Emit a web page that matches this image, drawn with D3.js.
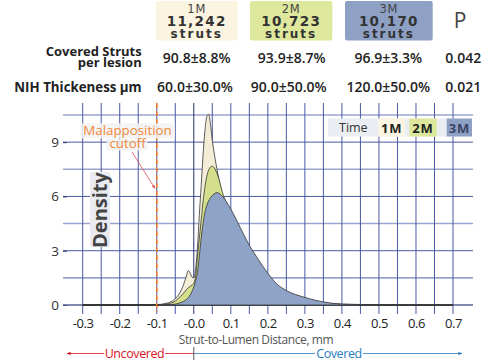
<!DOCTYPE html>
<html>
<head>
<meta charset="utf-8">
<script src="https://cdn.jsdelivr.net/npm/d3@7"></script>
<style>
  body { margin: 0; background: #fff; }
  svg { display: block; font-family: "Open Sans", sans-serif; }
</style>
</head>
<body>
<div class="chart"></div>
<script>
// strut-to-lumen distance density, 3 follow-up times

var groups = ["1M", "2M", "3M"];
var strutCounts = ["11,242", "10,723", "10,170"];
var coveredStruts = ["90.8±8.8%", "93.9±8.7%", "96.9±3.3%"];
var nihThickness = ["60.0±30.0%", "90.0±50.0%", "120.0±50.0%"];
var pValues = ["0.042", "0.021"];
var xTicks = [-0.3, -0.2, -0.1, 0, 0.1, 0.2, 0.3, 0.4, 0.5, 0.6, 0.7];
var yTicks = [0, 3, 6, 9];

var dist = [-0.3, -0.2, -0.15, -0.1, -0.075, -0.05, -0.04, -0.03, -0.02, -0.015, -0.01, -0.005,
  0, 0.005, 0.01, 0.015, 0.02, 0.025, 0.03, 0.035, 0.04, 0.045, 0.05, 0.055, 0.06, 0.065,
  0.07, 0.075, 0.08, 0.09, 0.1, 0.125, 0.15, 0.175, 0.2, 0.225, 0.25, 0.3, 0.35, 0.4, 0.45,
  0.5, 0.6, 0.7];
var dens1M = [0, 0.01, 0.01, 0.02, 0.09, 0.35, 0.6, 1.0, 1.6, 1.9, 1.78, 1.55,
  1.5, 2.0, 3.2, 5.0, 6.6, 8.3, 9.6, 10.4, 10.55, 10.0, 9.1, 8.4, 7.8, 7.25,
  6.7, 6.15, 5.85, 5.4, 5.0, 4.0, 2.9, 2.0, 1.4, 0.9, 0.6, 0.25, 0.08, 0.03, 0.02,
  0.01, 0.01, 0.01];
var dens2M = [0, 0.005, 0.005, 0.01, 0.05, 0.22, 0.4, 0.6, 0.85, 0.95, 1.02, 1.1,
  1.2, 1.6, 2.7, 3.7, 4.7, 5.7, 6.5, 7.1, 7.45, 7.62, 7.67, 7.6, 7.4, 7.15,
  6.8, 6.4, 6.05, 5.55, 5.1, 4.1, 3.1, 2.25, 1.55, 1.0, 0.68, 0.3, 0.12, 0.04, 0.02,
  0.01, 0.01, 0.01];
var dens3M = [0, 0, 0, 0.005, 0.01, 0.05, 0.1, 0.18, 0.3, 0.4, 0.55, 0.75,
  1.0, 1.35, 1.8, 2.7, 3.7, 4.5, 5.1, 5.5, 5.75, 5.92, 6.05, 6.14, 6.2, 6.2,
  6.15, 6.05, 5.95, 5.65, 5.3, 4.3, 3.3, 2.5, 1.75, 1.15, 0.8, 0.42, 0.17, 0.05, 0.03,
  0.02, 0.01, 0.01];

var fills = ["#f3edd8", "#d4df8b", "#8fa3c7"];
var boxFills = ["#fbf4e0", "#dde89c", "#8ea1c5"];

var width = 489, height = 360;
var svg = d3.select(".chart").append("svg")
    .attr("width", width)
    .attr("height", height);

var x = d3.scaleLinear().domain([-0.3, 0.7]).range([82.7, 453]);
var y = d3.scaleLinear().domain([0, 10.5]).range([305, 115]);

/* header */
var boxX = [[155.7, 82], [250, 82.3], [345, 87.7]];
groups.forEach(function(g, i) {
  var cx = boxX[i][0] + boxX[i][1] / 2;
  svg.append("rect")
      .attr("x", boxX[i][0]).attr("y", 1)
      .attr("width", boxX[i][1]).attr("height", 39.5)
      .attr("rx", 2)
      .attr("fill", boxFills[i]);
  var t = svg.append("g").attr("font-family", "DejaVu Sans").attr("text-anchor", "middle");
  t.append("text").attr("x", cx).attr("y", 12.8)
      .attr("font-size", 11.5).attr("fill", "#444").attr("letter-spacing", 0.8)
      .text(g);
  t.append("text").attr("x", cx).attr("y", 25.8)
      .attr("font-size", 13.5).attr("font-weight", "bold").attr("fill", "#333")
      .attr("letter-spacing", 1.3)
      .text(strutCounts[i]);
  t.append("text").attr("x", cx).attr("y", 37.6)
      .attr("font-size", 12).attr("font-weight", "bold").attr("fill", "#333")
      .attr("letter-spacing", 2)
      .text("struts");
});
svg.append("text").attr("x", 460).attr("y", 28.3)
    .attr("text-anchor", "middle").attr("font-size", 21).attr("fill", "#444")
    .text("P");

var rows = svg.append("g").attr("fill", "#222");
rows.append("text").attr("x", 141.7).attr("y", 55.5).attr("text-anchor", "end")
    .attr("font-size", 13).attr("font-weight", "bold").text("Covered Struts");
rows.append("text").attr("x", 141.7).attr("y", 67).attr("text-anchor", "end")
    .attr("font-size", 13).attr("font-weight", "bold").text("per lesion");
rows.append("text").attr("x", 141.7).attr("y", 92).attr("text-anchor", "end")
    .attr("font-size", 13.3).attr("font-weight", "bold").text("NIH Thickeness µm");

var colX = [196.7, 291.7, 388.3];
var colX2 = [195, 288.7, 388.3];
colX.forEach(function(cx, i) {
  rows.append("text").attr("x", cx).attr("y", 62.5).attr("text-anchor", "middle")
      .attr("font-size", 14).attr("font-weight", 600).text(coveredStruts[i]);
  rows.append("text").attr("x", colX2[i]).attr("y", 92)
      .attr("text-anchor", "middle")
      .attr("font-size", 14).attr("font-weight", 600).text(nihThickness[i]);
});
rows.append("text").attr("x", 463.3).attr("y", 62.5).attr("text-anchor", "middle")
    .attr("font-size", 14).attr("font-weight", 600).text(pValues[0]);
rows.append("text").attr("x", 463.3).attr("y", 92).attr("text-anchor", "middle")
    .attr("font-size", 14).attr("font-weight", 600).text(pValues[1]);

/* grid */
var grid = svg.append("g");
var hLines = d3.range(0, 10.51, 1.5);
grid.selectAll(".h").data(hLines).enter().append("line")
    .attr("x1", 63).attr("x2", 473)
    .attr("y1", function(d) { return y(d); })
    .attr("y2", function(d) { return y(d); })
    .attr("stroke", function(d) { return d % 3 == 0 ? "#4a58a4" : "#9aa3cf"; })
    .attr("stroke-width", function(d) { return d % 3 == 0 ? 1 : 1.6; });
var vLines = d3.range(-0.3, 0.7001, 0.05);
grid.selectAll(".v").data(vLines).enter().append("line")
    .attr("x1", function(d) { return x(d); })
    .attr("x2", function(d) { return x(d); })
    .attr("y1", 103).attr("y2", 314)
    .attr("stroke", function(d) { return Math.abs(d) < 1e-6 ? "#27316e" : "#4a58a4"; })
    .attr("stroke-width", 1);

// Y axis ticks
svg.append("g")
    .attr("transform", "translate(63,0)")
    .call(d3.axisRight(y).tickValues(yTicks).tickSize(4).tickFormat(""))
    .call(function(g) { g.select(".domain").remove(); })
    .selectAll("line").attr("stroke", "#2a3575");
svg.selectAll(".ylab").data(yTicks).enter().append("text")
    .attr("x", 59).attr("y", function(d) { return y(d) + 4.8; })
    .attr("text-anchor", "end").attr("font-size", 13.5).attr("fill", "#333")
    .text(function(d) { return d; });

// X axis
var xAxis = svg.append("g")
    .attr("transform", "translate(0,305)")
    .call(d3.axisBottom(x).tickValues(xTicks).tickSize(0).tickPadding(14)
      .tickFormat(function(d) { return (d <= 0 ? "-" : "") + Math.abs(d).toFixed(1); }));
xAxis.select(".domain").remove();
xAxis.selectAll("text")
    .attr("font-family", "Open Sans").attr("font-size", 13).attr("fill", "#222")
    .attr("letter-spacing", -0.4);
svg.append("line").attr("x1", 63).attr("x2", 473).attr("y1", 305).attr("y2", 305)
    .attr("stroke", "#5c6690").attr("stroke-width", 1);

/* densities */
var area = d3.area()
    .x(function(d) { return x(d[0]); })
    .y0(y(0))
    .y1(function(d) { return y(d[1]); })
    .curve(d3.curveMonotoneX);
[dens1M, dens2M, dens3M].forEach(function(vals, i) {
  var pts = dist.map(function(dx, j) { return [dx, vals[j]]; });
  svg.append("path").datum(pts)
      .attr("d", area)
      .attr("fill", fills[i])
      .attr("stroke", "#333")
      .attr("stroke-width", 0.8);
});

/* malapposition cutoff */
svg.append("line")
    .attr("x1", x(-0.1)).attr("x2", x(-0.1))
    .attr("y1", 103).attr("y2", 312)
    .attr("stroke", "#f07a22").attr("stroke-width", 1.5)
    .attr("stroke-dasharray", "5,3");
svg.append("rect").attr("x", 80.7).attr("y", 123.3).attr("width", 94.3).attr("height", 15)
    .attr("fill", "#f2f2f2").attr("opacity", 0.85);
svg.append("rect").attr("x", 106.7).attr("y", 138.5).attr("width", 40.6).attr("height", 12)
    .attr("fill", "#f2f2f2").attr("opacity", 0.85);
svg.append("text").attr("x", 127.5).attr("y", 134.5).attr("text-anchor", "middle")
    .attr("font-size", 13.3).attr("fill", "#f08838").text("Malapposition");
svg.append("text").attr("x", 127.5).attr("y", 147.5).attr("text-anchor", "middle")
    .attr("font-size", 13.3).attr("fill", "#f08838").text("cutoff");

svg.append("defs").append("marker")
    .attr("id", "ah").attr("viewBox", "0 0 10 10")
    .attr("refX", 9).attr("refY", 5)
    .attr("markerWidth", 5).attr("markerHeight", 5)
    .attr("orient", "auto")
  .append("path").attr("d", "M0,1L10,5L0,9Z").attr("fill", "#e0505a");
svg.append("line").attr("x1", 132).attr("y1", 152).attr("x2", 155).attr("y2", 188.5)
    .attr("stroke", "#e0505a").attr("stroke-width", 0.8)
    .attr("marker-end", "url(#ah)");

/* Density label */
svg.append("rect").attr("x", 90).attr("y", 172).attr("width", 20).attr("height", 75)
    .attr("fill", "#e9ebf0");
svg.append("text")
    .attr("transform", "translate(106.5,210) rotate(-90)")
    .attr("text-anchor", "middle").attr("font-size", 20).attr("font-weight", "bold")
    .attr("fill", "#444").text("Density");

/* legend */
var leg = svg.append("g");
leg.append("rect").attr("x", 328).attr("y", 118.5).attr("width", 144).attr("height", 18)
    .attr("fill", "#eaedf2");
leg.append("text").attr("x", 339).attr("y", 132).attr("font-size", 12.5).attr("fill", "#333")
    .text("Time");
var legX = [[378.3, 26.7], [409.3, 27.4], [446.7, 25.3]];
groups.forEach(function(g, i) {
  leg.append("rect").attr("x", legX[i][0]).attr("y", 118.5)
      .attr("width", legX[i][1]).attr("height", 18).attr("fill", boxFills[i]);
  leg.append("text").attr("x", legX[i][0] + legX[i][1] / 2).attr("y", 132.5)
      .attr("text-anchor", "middle").attr("font-size", 13).attr("font-weight", "bold")
      .attr("letter-spacing", 0.8)
      .attr("fill", i == 2 ? "#3a4563" : "#222").text(g);
});

/* x title and coverage arrows */
svg.append("text").attr("x", 256).attr("y", 343.5).attr("text-anchor", "middle")
    .attr("font-size", 12).attr("fill", "#555").attr("letter-spacing", -0.4)
    .text("Strut-to-Lumen Distance, mm");

var defs = svg.select("defs");
defs.append("marker").attr("id", "ar").attr("viewBox", "0 0 10 10")
    .attr("refX", 9).attr("refY", 5).attr("markerWidth", 5).attr("markerHeight", 5)
    .attr("orient", "auto-start-reverse")
  .append("path").attr("d", "M0,1L10,5L0,9Z").attr("fill", "#d8141e");
defs.append("marker").attr("id", "ab").attr("viewBox", "0 0 10 10")
    .attr("refX", 9).attr("refY", 5).attr("markerWidth", 5).attr("markerHeight", 5)
    .attr("orient", "auto")
  .append("path").attr("d", "M0,1L10,5L0,9Z").attr("fill", "#2a7cc2");

svg.append("line").attr("x1", 104).attr("x2", 67).attr("y1", 353.5).attr("y2", 353.5)
    .attr("stroke", "#d8141e").attr("stroke-width", 0.8).attr("marker-end", "url(#ar)");
svg.append("line").attr("x1", 165).attr("x2", x(0)).attr("y1", 353.5).attr("y2", 353.5)
    .attr("stroke", "#d8141e").attr("stroke-width", 0.8);
svg.append("text").attr("x", 134.5).attr("y", 357.5).attr("text-anchor", "middle")
    .attr("font-size", 12.5).attr("fill", "#d8141e").attr("letter-spacing", -0.4)
    .text("Uncovered");
svg.append("line").attr("x1", x(0)).attr("x2", 315).attr("y1", 353.5).attr("y2", 353.5)
    .attr("stroke", "#2a7cc2").attr("stroke-width", 0.8);
svg.append("line").attr("x1", 363).attr("x2", 462).attr("y1", 353.5).attr("y2", 353.5)
    .attr("stroke", "#2a7cc2").attr("stroke-width", 0.8).attr("marker-end", "url(#ab)");
svg.append("text").attr("x", 339).attr("y", 357.5).attr("text-anchor", "middle")
    .attr("font-size", 12.5).attr("fill", "#2a7cc2").attr("letter-spacing", -0.4)
    .text("Covered");
svg.append("line").attr("x1", x(0)).attr("x2", x(0)).attr("y1", 347).attr("y2", 360)
    .attr("stroke", "#555").attr("stroke-width", 1);
</script>
</body>
</html>
